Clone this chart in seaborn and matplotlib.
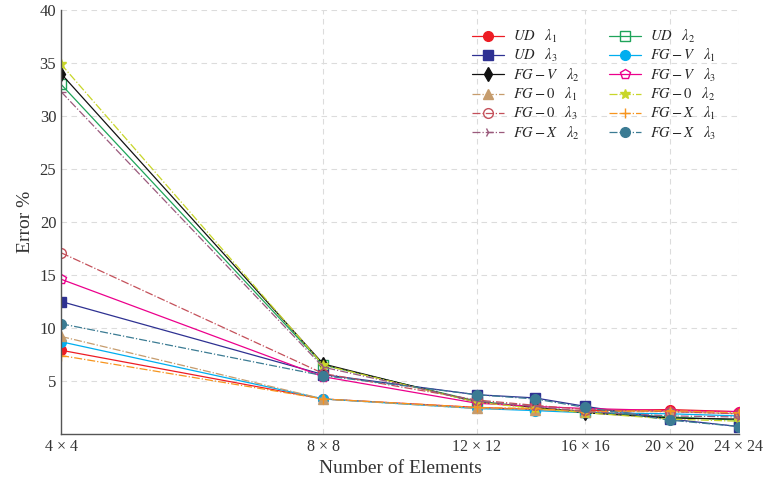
import matplotlib
matplotlib.use("Agg")
import matplotlib.pyplot as plt
import pandas as pd
import seaborn as sns

# malhas (n x n) e erros em %
mesh = [4, 8, 12, 14, 16, 20, 24]
tick_mesh = [4, 8, 12, 16, 20, 24]
tick_labels = ["4 × 4", "8 × 8", "12 × 12", "16 × 16", "20 × 20", "24 × 24"]

ud_l1 = [7.9, 3.3, 2.5, 2.3, 2.2, 2.3, 2.1]
ud_l2 = [33.0, 6.5, 3.1, 2.5, 2.1, 1.6, 1.3]
ud_l3 = [12.5, 5.6, 3.7, 3.4, 2.6, 1.4, 0.7]
fgv_l1 = [8.7, 3.3, 2.4, 2.2, 2.0, 1.9, 1.7]
fgv_l2 = [34.0, 6.6, 3.0, 2.5, 2.0, 1.5, 1.4]
fgv_l3 = [14.6, 5.4, 2.9, 2.6, 2.4, 2.2, 2.1]
fg0_l1 = [9.2, 3.3, 2.4, 2.3, 2.1, 2.1, 1.9]
fg0_l2 = [34.9, 6.5, 3.0, 2.4, 2.0, 1.4, 1.2]
fg0_l3 = [17.1, 5.7, 3.2, 2.7, 2.3, 2.1, 1.9]
fgx_l1 = [7.4, 3.3, 2.5, 2.4, 2.1, 2.2, 2.0]
fgx_l2 = [32.3, 6.3, 3.1, 2.6, 2.1, 1.7, 1.6]
fgx_l3 = [10.4, 5.5, 3.7, 3.3, 2.5, 1.3, 0.7]

# (rotulo, dados, cor, marcador, estilo, cheio)
series = [
    (r"$UD\quad\lambda_1$", ud_l1, "#ED1C24", "o", "-", True),
    (r"$UD\quad\lambda_2$", ud_l2, "#1FA45A", "s", "-", False),
    (r"$UD\quad\lambda_3$", ud_l3, "#2E3192", "s", "-", True),
    (r"$FG-V\quad\lambda_1$", fgv_l1, "#00AEEF", "o", "-", True),
    (r"$FG-V\quad\lambda_2$", fgv_l2, "#111111", "d", "-", True),
    (r"$FG-V\quad\lambda_3$", fgv_l3, "#EC008C", "p", "-", False),
    (r"$FG-0\quad\lambda_1$", fg0_l1, "#C69C6D", "^", "-.", True),
    (r"$FG-0\quad\lambda_2$", fg0_l2, "#C8D62A", "*", "-.", True),
    (r"$FG-0\quad\lambda_3$", fg0_l3, "#C4505A", "o", "-.", False),
    (r"$FG-X\quad\lambda_1$", fgx_l1, "#F7941D", "+", "-.", True),
    (r"$FG-X\quad\lambda_2$", fgx_l2, "#9B5A7C", "4", "-.", True),
    (r"$FG-X\quad\lambda_3$", fgx_l3, "#3B7B93", "o", "-.", True),
]

sns.set_style("white")
plt.rcParams["font.family"] = ["Liberation Serif", "DejaVu Serif"]
plt.rcParams["mathtext.fontset"] = "stix"

fig, ax = plt.subplots(figsize=(7.64, 4.87), dpi=100)
fig.subplots_adjust(left=0.08, right=0.967, bottom=0.109, top=0.979)

for label, vals, color, mk, ls, filled in series:
    df = pd.DataFrame({"n": mesh, "err": vals})
    sns.lineplot(data=df, x="n", y="err", ax=ax, color=color, marker=mk, linestyle=ls,
                 linewidth=0.9, markersize=7, label=label,
                 markerfacecolor=color if filled else "none", markeredgecolor=color,
                 markeredgewidth=1.0)

ax.set_xscale("log")
ax.set_xlim(4, 24)
ax.set_ylim(0, 40)
ax.set_xticks(tick_mesh)
ax.set_xticklabels(tick_labels)
ax.xaxis.set_minor_locator(matplotlib.ticker.NullLocator())
ax.set_yticks([5, 10, 15, 20, 25, 30, 35, 40])
ax.grid(True, linestyle=(0, (5, 4)), color="#dcdcdc", linewidth=0.8)
ax.set_axisbelow(True)
for s in ["top", "right"]:
    ax.spines[s].set_visible(False)
for s in ["left", "bottom"]:
    ax.spines[s].set_color("#555555")
    ax.spines[s].set_linewidth(1.0)
ax.tick_params(axis="both", direction="in", length=4, color="#aaaaaa", labelsize=12, labelcolor="#333333")
ax.tick_params(axis="x", labelsize=11.5)
ax.set_xlabel("Number of Elements", fontsize=14, color="#333333")
ax.set_ylabel("Error %", fontsize=14, color="#333333")

# legenda preenchida por linhas (2 colunas)
h, l = ax.get_legend_handles_labels()
order = list(range(0, len(h), 2)) + list(range(1, len(h), 2))
ax.legend([h[i] for i in order], [l[i] for i in order], ncol=2, frameon=False,
          loc="upper left", bbox_to_anchor=(0.606, 0.958), borderaxespad=0, borderpad=0,
          handlelength=2.2, columnspacing=2.0, labelspacing=0.15, handletextpad=0.6,
          prop={"family": ["Liberation Serif", "DejaVu Serif"], "size": 10.5})

plt.savefig("out.png", dpi=100)
